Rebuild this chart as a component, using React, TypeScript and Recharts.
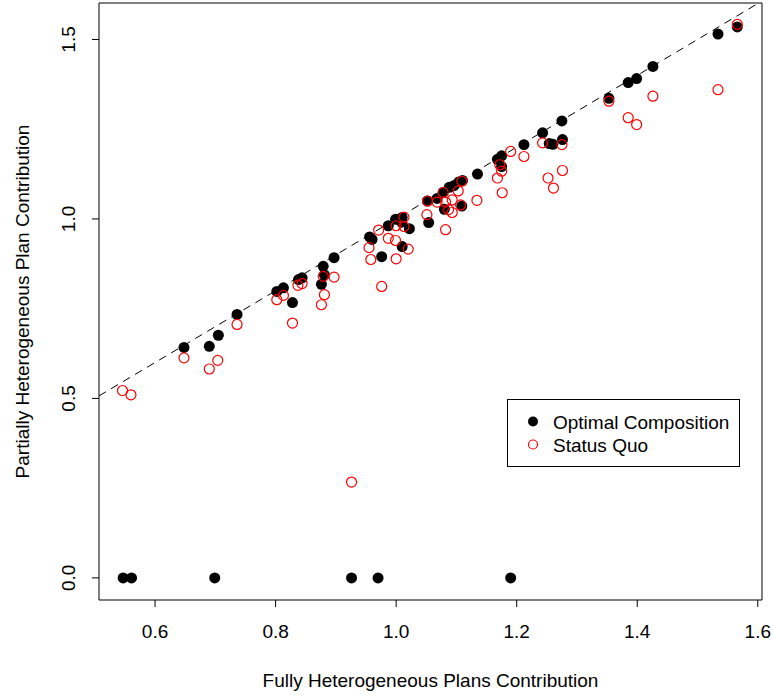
import React from "react";
import {
  ScatterChart,
  Scatter,
  XAxis,
  YAxis,
  ReferenceLine,
  ReferenceArea,
} from "recharts";

const xTicks = [0.6, 0.8, 1.0, 1.2, 1.4, 1.6];
const yTicks = [0.0, 0.5, 1.0, 1.5];
const xDomain = [0.507, 1.607];
const yDomain = [-0.0616, 1.6016];

const optimalX = [
  0.547, 0.561, 0.699, 0.926, 0.97, 1.19, 0.648, 0.69, 0.705, 0.736, 0.802, 0.813,
  0.828, 0.838, 0.844, 0.879, 0.881, 0.876, 0.897, 0.956, 0.96, 0.976, 0.987, 0.999,
  1.009, 1.01, 1.022, 1.01, 1.052, 1.054, 1.068, 1.078, 1.088, 1.096, 1.104, 1.11,
  1.08, 1.109, 1.135, 1.168, 1.175, 1.175, 1.212, 1.243, 1.254, 1.26, 1.276, 1.275,
  1.353, 1.385, 1.399, 1.426, 1.534, 1.566,
];
const optimalY = [
  0, 0, 0, 0, 0, 0, 0.642, 0.645, 0.676, 0.734, 0.798, 0.808,
  0.767, 0.831, 0.836, 0.868, 0.844, 0.818, 0.892, 0.95, 0.943, 0.895, 0.981, 0.999,
  0.991, 1.004, 0.973, 0.923, 1.05, 0.99, 1.057, 1.074, 1.088, 1.093, 1.103, 1.107,
  1.027, 1.036, 1.125, 1.166, 1.176, 1.146, 1.207, 1.24, 1.21, 1.208, 1.221, 1.273,
  1.336, 1.38, 1.391, 1.425, 1.515, 1.535,
];

const statusQuoX = [
  0.546, 0.56, 0.648, 0.69, 0.704, 0.736, 0.802, 0.813, 0.828, 0.837, 0.844, 0.879,
  0.881, 0.876, 0.897, 0.926, 0.955, 0.958, 0.971, 0.976, 0.987, 0.999, 1.0, 1.0,
  1.013, 1.013, 1.02, 1.052, 1.051, 1.068, 1.082, 1.078, 1.082, 1.093, 1.087, 1.093,
  1.103, 1.109, 1.107, 1.134, 1.172, 1.175, 1.168, 1.176, 1.19, 1.212, 1.243, 1.275,
  1.276, 1.252, 1.261, 1.353, 1.385, 1.399, 1.426, 1.534, 1.566,
];
const statusQuoY = [
  0.522, 0.51, 0.613, 0.582, 0.606, 0.706, 0.775, 0.787, 0.71, 0.815, 0.82, 0.84,
  0.789, 0.761, 0.838, 0.267, 0.92, 0.887, 0.969, 0.812, 0.946, 0.94, 0.889, 0.981,
  1.005, 0.979, 0.916, 1.05, 1.012, 1.047, 0.97, 1.074, 1.047, 1.053, 1.026, 1.018,
  1.078, 1.105, 1.039, 1.052, 1.151, 1.133, 1.114, 1.073, 1.188, 1.174, 1.212, 1.207,
  1.135, 1.114, 1.086, 1.328, 1.282, 1.263, 1.342, 1.36, 1.542,
];

const seriesNames = ["Optimal Composition", "Status Quo"];
const xTitle = "Fully Heterogeneous Plans Contribution";
const yTitle = "Partially Heterogeneous Plan Contribution";

const optimalData = optimalX.map((x, i) => ({ x, y: optimalY[i] }));
const statusQuoData = statusQuoX.map((x, i) => ({ x, y: statusQuoY[i] }));

const FONT = "'Liberation Sans', Arial, Helvetica, sans-serif";
const FS = 19;

const FilledDot = (props: any) => {
  const { cx, cy } = props;
  if (cx == null || cy == null) return null;
  return <circle cx={cx} cy={cy} r={5.5} fill="#000" />;
};

const OpenDot = (props: any) => {
  const { cx, cy } = props;
  if (cx == null || cy == null) return null;
  return <circle cx={cx} cy={cy} r={5} fill="none" stroke="#ff0000" strokeWidth={1.2} />;
};

const XTick = (props: any) => {
  const { x, y, payload } = props;
  return (
    <text x={x} y={y} dy="0.71em" textAnchor="middle" fontSize={FS} fontFamily={FONT} fill="#000">
      {Number(payload.value).toFixed(1)}
    </text>
  );
};

const YTick = (props: any) => {
  const { x, y, payload } = props;
  return (
    <text
      x={x}
      y={y}
      transform={`rotate(-90 ${x} ${y})`}
      textAnchor="middle"
      fontSize={FS}
      fontFamily={FONT}
      fill="#000"
    >
      {Number(payload.value).toFixed(1)}
    </text>
  );
};

const XTitle = (props: any) => {
  const { viewBox } = props;
  const cx = viewBox.x + viewBox.width / 2;
  return (
    <text x={cx} y={687} textAnchor="middle" fontSize={FS} fontFamily={FONT} fill="#000">
      {xTitle}
    </text>
  );
};

const YTitle = (props: any) => {
  const { viewBox } = props;
  const cy = viewBox.y + viewBox.height / 2;
  const x = 29;
  return (
    <text
      x={x}
      y={cy}
      transform={`rotate(-90 ${x} ${cy})`}
      textAnchor="middle"
      fontSize={FS}
      fontFamily={FONT}
      fill="#000"
    >
      {yTitle}
    </text>
  );
};

export default function App() {
  return (
    <div style={{ position: "absolute", left: 0, top: 0, width: 773, height: 696, background: "#fff" }}>
      <ScatterChart width={773} height={696} margin={{ top: 3, right: 11, bottom: 0, left: 0 }}>
        <XAxis
          type="number"
          dataKey="x"
          domain={xDomain}
          ticks={xTicks}
          allowDataOverflow
          axisLine={false}
          tickLine={{ stroke: "#000" }}
          tickSize={7}
          tickMargin={18}
          tick={<XTick />}
          height={96}
          interval={0}
          label={<XTitle />}
        />
        <YAxis
          type="number"
          dataKey="y"
          domain={yDomain}
          ticks={yTicks}
          allowDataOverflow
          axisLine={false}
          tickLine={{ stroke: "#000" }}
          tickSize={7}
          tickMargin={17}
          tick={<YTick />}
          width={99}
          interval={0}
          label={<YTitle />}
        />
        <ReferenceArea
          x1={xDomain[0]}
          x2={xDomain[1]}
          y1={yDomain[0]}
          y2={yDomain[1]}
          fill="none"
          stroke="#000"
          strokeWidth={1}
          ifOverflow="extendDomain"
        />
        <ReferenceLine
          segment={[
            { x: xDomain[0], y: xDomain[0] },
            { x: yDomain[1], y: yDomain[1] },
          ]}
          stroke="#000"
          strokeWidth={1}
          strokeDasharray="8 6"
        />
        <Scatter name={seriesNames[0]} data={optimalData} shape={<FilledDot />} isAnimationActive={false} />
        <Scatter name={seriesNames[1]} data={statusQuoData} shape={<OpenDot />} isAnimationActive={false} />
      </ScatterChart>
      <div
        style={{
          position: "absolute",
          left: 507,
          top: 399,
          width: 233,
          height: 68,
          border: "1px solid #000",
          background: "#fff",
          boxSizing: "border-box",
        }}
      >
        <svg width={231} height={66} style={{ position: "absolute", left: 0, top: 0 }}>
          <circle cx={25} cy={21.5} r={5} fill="#000" />
          <circle cx={25} cy={44.5} r={4.5} fill="none" stroke="#ff0000" strokeWidth={1.2} />
          <text x={45} y={28.5} fontSize={FS} fontFamily={FONT} fill="#000">
            {seriesNames[0]}
          </text>
          <text x={45} y={51.5} fontSize={FS} fontFamily={FONT} fill="#000">
            {seriesNames[1]}
          </text>
        </svg>
      </div>
    </div>
  );
}
